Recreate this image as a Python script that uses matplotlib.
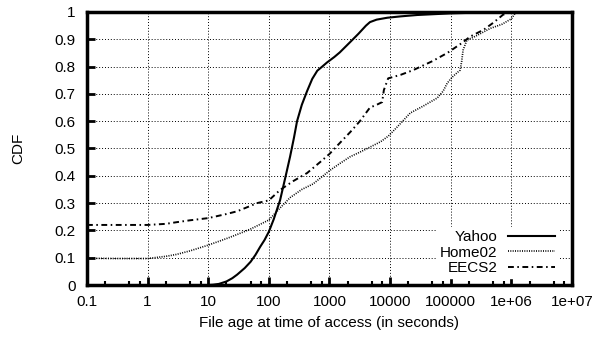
import numpy as np
import matplotlib
matplotlib.use("Agg")
import matplotlib.pyplot as plt
from matplotlib.ticker import LogLocator, NullFormatter

plt.rcParams['font.family'] = ['Liberation Sans', 'DejaVu Sans']

# Yahoo
yahoo_x = [10, 12, 15, 20, 25, 30, 40, 50, 60, 72, 85, 100, 120, 153, 190, 224,
           260, 292, 350, 427, 520, 630, 760, 910, 1200, 1480, 2200, 3000, 4000,
           4660, 6000, 9000, 15000, 28000, 100000, 450000, 1.5e6]
yahoo_y = [0.0, 0.001, 0.004, 0.013, 0.025, 0.038, 0.062, 0.085, 0.11, 0.14,
           0.165, 0.195, 0.24, 0.31, 0.40, 0.47, 0.54, 0.60, 0.66, 0.71, 0.755,
           0.785, 0.80, 0.815, 0.835, 0.852, 0.89, 0.92, 0.95, 0.963, 0.972,
           0.979, 0.984, 0.989, 0.995, 0.999, 1.0]

# Home02
home_x = [0.1, 0.3, 1, 2, 3, 5, 10, 20, 30, 50, 100, 150, 224, 350, 535, 1020,
          1480, 2200, 3200, 4660, 7000, 9300, 12000, 14600, 21500, 35000, 60000,
          75000, 88000, 110000, 143000, 152000, 160000, 185000, 250000, 450000,
          700000, 1e6, 1.2e6]
home_y = [0.098, 0.097, 0.097, 0.105, 0.112, 0.125, 0.146, 0.17, 0.185, 0.205,
          0.238, 0.28, 0.32, 0.35, 0.37, 0.42, 0.445, 0.47, 0.487, 0.505, 0.525,
          0.545, 0.57, 0.59, 0.63, 0.655, 0.685, 0.71, 0.74, 0.765, 0.787, 0.82,
          0.86, 0.897, 0.91, 0.94, 0.955, 0.975, 1.0]

# EECS2
eecs_x = [0.1, 0.5, 1, 2, 3, 5, 10, 20, 30, 50, 64, 100, 153, 250, 427, 700,
          1000, 1480, 2200, 3170, 4660, 6000, 7400, 7900, 9300, 15000, 24000,
          50000, 88000, 150000, 210000, 350000, 500000, 730000, 1e6]
eecs_y = [0.22, 0.22, 0.22, 0.224, 0.23, 0.237, 0.245, 0.26, 0.27, 0.29, 0.30,
          0.31, 0.348, 0.38, 0.41, 0.45, 0.48, 0.52, 0.56, 0.60, 0.65, 0.66,
          0.67, 0.714, 0.757, 0.77, 0.787, 0.82, 0.85, 0.885, 0.91, 0.935, 0.96,
          0.99, 1.0]

x_ticks = [0.1, 1, 10, 100, 1000, 10000, 100000, 1e6, 1e7]
x_labels = ['0.1', '1', '10', '100', '1000', '10000', '100000', '1e+06', '1e+07']
y_ticks = [0, 0.1, 0.2, 0.3, 0.4, 0.5, 0.6, 0.7, 0.8, 0.9, 1]
y_labels = ['0', '0.1', '0.2', '0.3', '0.4', '0.5', '0.6', '0.7', '0.8', '0.9', '1']

fig = plt.figure(figsize=(5.97, 3.37), dpi=100)
ax = fig.add_axes([0.1457, 0.1543, 0.8123, 0.8101])

ax.plot(yahoo_x, yahoo_y, color='black', lw=1.5, label='Yahoo', zorder=3)
ax.plot(home_x, home_y, color='black', lw=1.2, linestyle=(0, (0.6, 0.8)),
        label='Home02', zorder=3)
ax.plot(eecs_x, eecs_y, color='black', lw=1.4, linestyle=(0, (3, 1.8, 0.8, 1.8)),
        label='EECS2', zorder=3)

ax.set_xscale('log')
ax.set_xlim(0.1, 1e7)
ax.set_ylim(0, 1)
ax.set_xticks(x_ticks)
ax.set_xticklabels(x_labels)
ax.xaxis.set_minor_locator(LogLocator(base=10, subs=[2, 5, 7.5], numticks=20))
ax.xaxis.set_minor_formatter(NullFormatter())
ax.set_yticks(y_ticks)
ax.set_yticklabels(y_labels)

ax.tick_params(axis='both', which='major', direction='in', length=6, width=2,
               labelsize=11, top=False, right=False)
ax.tick_params(axis='x', which='major', pad=7)
ax.tick_params(axis='y', which='major', pad=8)
ax.tick_params(axis='x', which='minor', direction='in', length=3, width=1.5,
               top=False)
ax.grid(True, which='major', color='black', linestyle=(0, (1, 2)), lw=0.7)
for s in ax.spines.values():
    s.set_linewidth(2.5)

ax.set_xlabel('File age at time of access (in seconds)', fontsize=11, labelpad=5)
ax.set_ylabel('CDF', fontsize=11, labelpad=21)

leg = ax.legend(loc='lower right', bbox_to_anchor=(0.972, 0.025), fontsize=11,
                markerfirst=False, frameon=True, fancybox=False,
                handlelength=3.1, handletextpad=0.7, labelspacing=0.1,
                borderpad=0.2, borderaxespad=0)
leg.get_frame().set_edgecolor('white')
leg.get_frame().set_facecolor('white')
leg.get_frame().set_alpha(1)
leg.set_zorder(2.5)

fig.savefig('out.png', dpi=100)
